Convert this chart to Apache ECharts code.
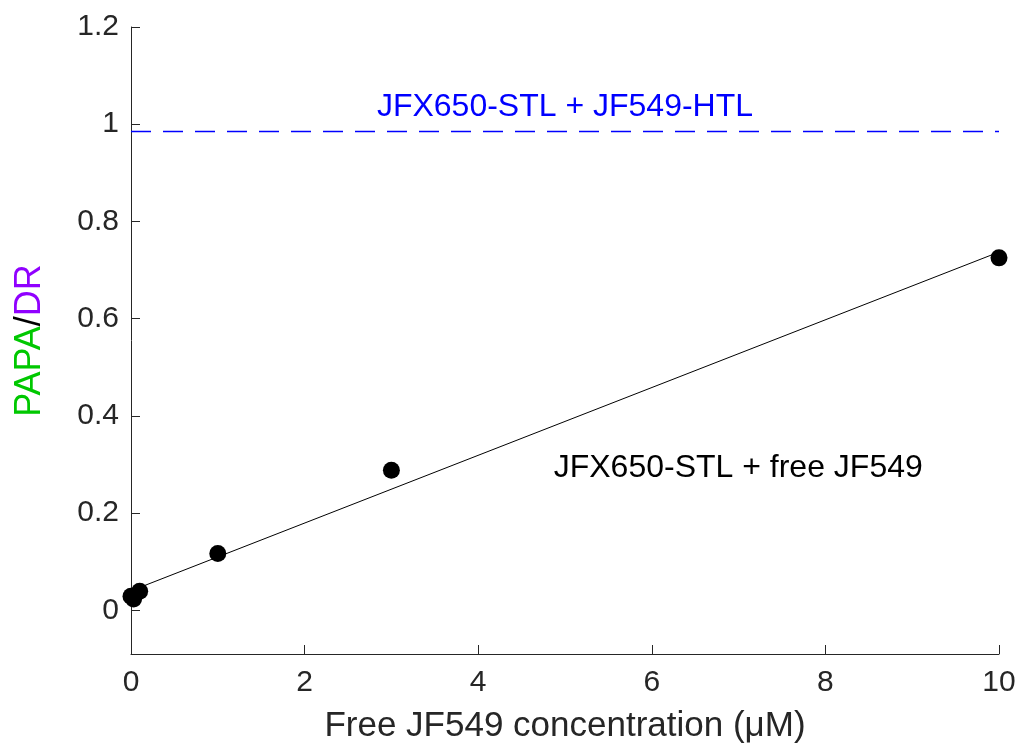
<!DOCTYPE html>
<html>
<head>
<meta charset="utf-8">
<script src="https://cdn.jsdelivr.net/npm/echarts@6/dist/echarts.min.js"></script>
<style>
html,body{margin:0;padding:0;background:#fff;}
#c{width:1028px;height:749px;}
</style>
</head>
<body>
<div id="c"></div>
<script>
// measured data
var concX = [0, 0.03, 0.1, 1, 3, 10];
var ratioY = [0.029, 0.023, 0.039, 0.117, 0.288, 0.725];
// linear fit endpoints
var fitX = [0, 10];
var fitY = [0.040, 0.737];
// reference level (JFX650-STL + JF549-HTL)
var refX = [0, 10];
var refY = [0.985, 0.985];
var yTicks = [0, 0.2, 0.4, 0.6, 0.8, 1, 1.2];
var xTicks = [0, 2, 4, 6, 8, 10];
var refLabel = 'JFX650-STL + JF549-HTL';
var fitLabel = 'JFX650-STL + free JF549';
var fitLabelAt = [4.87, 0.292];

function pairs(xs, ys){ return xs.map(function(x,i){ return [x, ys[i]]; }); }

var axisColor = '#262626';
var font = 'Liberation Sans, Arial, sans-serif';
var chart = echarts.init(document.getElementById('c'));
chart.setOption({
  animation: false,
  backgroundColor: '#fff',
  grid: {left: 131, right: 29, top: 27, bottom: 93},
  xAxis: {
    type: 'value', min: 0, max: 10, interval: 2,
    name: 'Free JF549 concentration (μM)',
    nameLocation: 'middle', nameGap: 55,
    nameTextStyle: {color: axisColor, fontSize: 35, fontFamily: font},
    axisLine: {show: true, onZero: false, lineStyle: {color: axisColor, width: 1}},
    axisTick: {show: true, inside: true, length: 9, lineStyle: {color: axisColor}},
    axisLabel: {color: axisColor, fontSize: 30, fontFamily: font, margin: 14},
    splitLine: {show: false}
  },
  yAxis: {
    type: 'value', min: -0.09, max: 1.2,
    name: '{g|PAPA}{k|/}{p|DR}',
    nameLocation: 'middle', nameGap: 83, nameRotate: 90,
    nameTextStyle: {
      fontSize: 36, fontFamily: font,
      rich: {
        g: {color: '#00c800', fontSize: 36, fontFamily: font},
        k: {color: '#000000', fontSize: 36, fontFamily: font},
        p: {color: '#9000ff', fontSize: 36, fontFamily: font}
      }
    },
    axisLine: {show: true, onZero: false, lineStyle: {color: axisColor, width: 1}},
    axisTick: {show: true, inside: true, length: 9, lineStyle: {color: axisColor}, customValues: yTicks},
    axisLabel: {color: axisColor, fontSize: 30, fontFamily: font, margin: 12, customValues: yTicks,
      formatter: function(v){ return String(Math.round(v*10)/10); }},
    splitLine: {show: false}
  },
  series: [
    {
      type: 'line', data: pairs(refX, refY), symbol: 'none', silent: true,
      lineStyle: {width: 0, opacity: 0},
      markLine: {
        silent: true, symbol: ['none', 'none'],
        lineStyle: {color: 'rgb(0,0,255)', width: 1.3, type: [20, 12], opacity: 1},
        label: {show: true, position: 'middle', formatter: refLabel, color: '#0000ff', fontSize: 32,
          fontFamily: font, distance: 8},
        data: [[{coord: [refX[0], refY[0]]}, {coord: [refX[1], refY[1]]}]]
      }
    },
    {
      type: 'line', data: pairs(fitX, fitY), symbol: 'none', silent: true,
      color: '#000',
      lineStyle: {color: '#000', width: 1},
      markPoint: {
        symbol: 'circle', symbolSize: 0, silent: true,
        data: [{coord: fitLabelAt, value: fitLabel}],
        label: {show: true, formatter: fitLabel, color: '#000', fontSize: 32, fontFamily: font,
          align: 'left', verticalAlign: 'middle', offset: [0, 0]}
      }
    },
    {
      type: 'scatter', data: pairs(concX, ratioY), symbol: 'circle', symbolSize: 17,
      itemStyle: {color: '#000', opacity: 1}, clip: false
    }
  ]
});
</script>
</body>
</html>
